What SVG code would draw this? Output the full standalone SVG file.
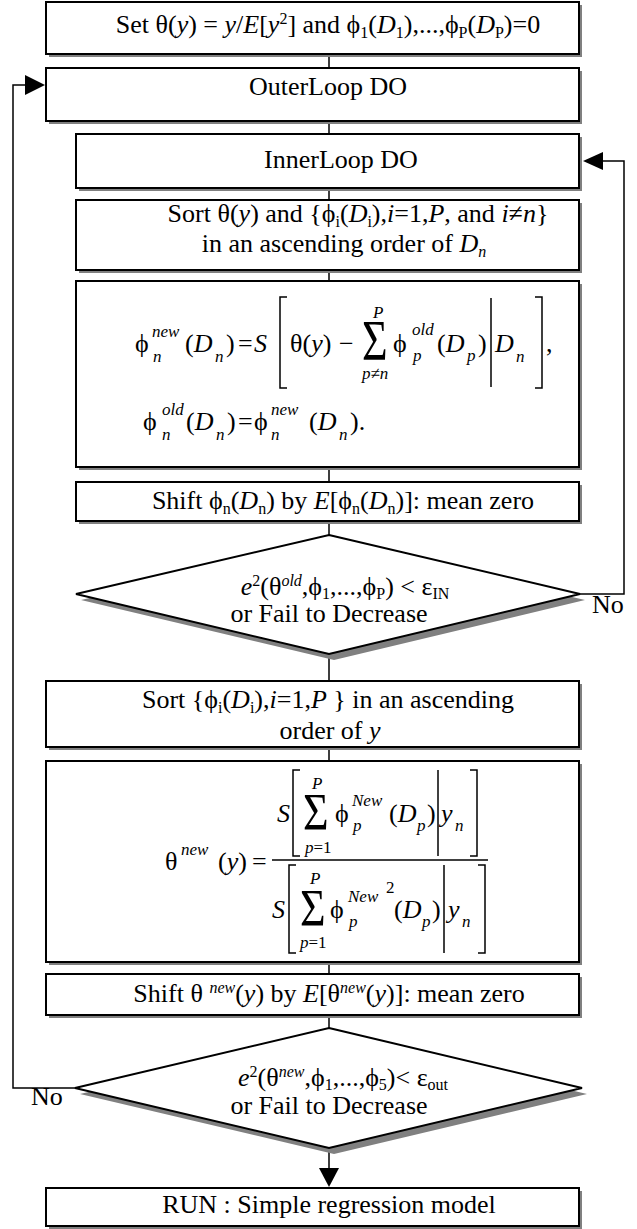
<svg xmlns="http://www.w3.org/2000/svg" width="637" height="1229" viewBox="0 0 637 1229">
<defs>
<style>
text{font-family:"Liberation Serif","Times New Roman",serif;font-size:26px;fill:#000}
.c{text-anchor:middle}
.i{font-style:italic}
.s{font-size:16px}
.ms{font-size:17px;font-style:italic}
.n{font-style:normal}
.two{font-size:17px}
.sig{font-size:44px}
.sh{fill:#808080;stroke:none}
.bx{fill:#fff;stroke:#000;stroke-width:2}
.ln{fill:none;stroke:#000;stroke-width:1.5}
.br{fill:none;stroke:#000;stroke-width:1.5}
</style>
</defs>
<rect width="637" height="1229" fill="#fff"/>

<g id="connectors">
<path class="ln" d="M329,54V68M329,121V134M329,188V200M329,270V281M329,467V482M329,521V535M329,654V681M329,747V761M329,962V974M329,1015V1028M329,1148V1170"/>
<polygon points="319,1168 339,1168 329,1187" fill="#000"/>
<path class="ln" d="M75,1088H13V85H27"/>
<polygon points="25,75 45,85 25,95" fill="#000"/>
<path class="ln" d="M580,594H624V161H601"/>
<polygon points="603,152 583,161 603,170" fill="#000"/>
<text x="592" y="613">No</text>
<text x="31" y="1105">No</text>
</g>

<g id="n-set">
<rect class="sh" x="49" y="5" width="533" height="52"/>
<rect class="bx" x="46" y="2" width="533" height="52"/>
<text class="c" x="328" y="33">Set θ(<tspan class="i">y</tspan>) = <tspan class="i">y</tspan>/<tspan class="i">E</tspan>[<tspan class="i">y</tspan><tspan class="s" baseline-shift="9">2</tspan>] and ϕ<tspan class="s" baseline-shift="-5">1</tspan>(<tspan class="i">D</tspan><tspan class="s" baseline-shift="-5">1</tspan>),...,ϕ<tspan class="s" baseline-shift="-5">P</tspan>(<tspan class="i">D</tspan><tspan class="s" baseline-shift="-5">P</tspan>)=0</text>
</g>

<g id="n-outer">
<rect class="sh" x="49" y="71" width="533" height="53"/>
<rect class="bx" x="46" y="68" width="533" height="53"/>
<text class="c" x="328" y="95">OuterLoop DO</text>
</g>

<g id="n-inner">
<rect class="sh" x="79" y="137" width="503" height="54"/>
<rect class="bx" x="76" y="134" width="503" height="54"/>
<text class="c" x="341" y="168">InnerLoop DO</text>
</g>

<g id="n-sort1">
<rect class="sh" x="79" y="203" width="503" height="70"/>
<rect class="bx" x="76" y="200" width="503" height="70"/>
<text class="c" x="358" y="222">Sort θ(<tspan class="i">y</tspan>) and {ϕ<tspan class="s" baseline-shift="-5">i</tspan>(<tspan class="i">D</tspan><tspan class="s" baseline-shift="-5">i</tspan>),<tspan class="i">i</tspan>=1,<tspan class="i">P</tspan>, and <tspan class="i">i</tspan>≠<tspan class="i">n</tspan>}</text>
<text class="c" x="344" y="252">in an ascending order of <tspan class="i">D</tspan><tspan class="s i" baseline-shift="-5">n</tspan></text>
</g>

<g id="n-formula1">
<rect class="sh" x="79" y="284" width="503" height="186"/>
<rect class="bx" x="76" y="281" width="503" height="186"/>
<text x="135" y="352">ϕ</text>
<text class="ms" x="152" y="337">new</text>
<text class="ms" x="153" y="362">n</text>
<text x="185" y="352">(<tspan class="i">D</tspan></text>
<text class="ms" x="215" y="362">n</text>
<text x="226" y="352">)</text>
<text x="238" y="352">=</text>
<text class="i" x="254" y="352">S</text>
<path class="br" d="M287,297H280V388H287"/>
<text x="290" y="352">θ(<tspan class="i">y</tspan>)</text>
<text x="339" y="352">−</text>
<text class="sig" transform="translate(362,360) scale(1,1.3)">Σ</text>
<text class="ms" x="373" y="318">P</text>
<text class="ms" x="362" y="379">p<tspan class="n">≠</tspan>n</text>
<text x="393" y="352">ϕ</text>
<text class="ms" x="412" y="335">old</text>
<text class="ms" x="413" y="361">p</text>
<text x="437" y="352">(<tspan class="i">D</tspan></text>
<text class="ms" x="467" y="361">p</text>
<text x="478" y="352">)</text>
<path class="br" d="M491,298V387"/>
<text class="i" x="495" y="352">D</text>
<text class="ms" x="516" y="362">n</text>
<path class="br" d="M535,297H542V388H535"/>
<text x="546" y="352">,</text>
<text x="143" y="430">ϕ</text>
<text class="ms" x="162" y="415">old</text>
<text class="ms" x="162" y="440">n</text>
<text x="186" y="430">(<tspan class="i">D</tspan></text>
<text class="ms" x="216" y="440">n</text>
<text x="227" y="430">)</text>
<text x="238" y="430">=</text>
<text x="254" y="430">ϕ</text>
<text class="ms" x="271" y="415">new</text>
<text class="ms" x="271" y="440">n</text>
<text x="309" y="430">(<tspan class="i">D</tspan></text>
<text class="ms" x="339" y="440">n</text>
<text x="350" y="430">).</text>
</g>

<g id="n-shift1">
<rect class="sh" x="79" y="485" width="503" height="39"/>
<rect class="bx" x="76" y="482" width="503" height="39"/>
<text class="c" x="343" y="509">Shift ϕ<tspan class="s" baseline-shift="-5">n</tspan>(<tspan class="i">D</tspan><tspan class="s" baseline-shift="-5">n</tspan>) by <tspan class="i">E</tspan>[ϕ<tspan class="s" baseline-shift="-5">n</tspan>(<tspan class="i">D</tspan><tspan class="s" baseline-shift="-5">n</tspan>)]: mean zero</text>
</g>

<g id="n-dec1">
<polygon class="sh" points="334,541 585,600 334,660 81,600"/>
<polygon class="bx" points="329,535 580,594 329,654 76,594"/>
<text class="c" x="345" y="595"><tspan class="i">e</tspan><tspan class="s" baseline-shift="9">2</tspan>(θ<tspan class="s i" baseline-shift="9">old</tspan>,ϕ<tspan class="s" baseline-shift="-4">1</tspan>,...,ϕ<tspan class="s" baseline-shift="-4">P</tspan>) &lt; ε<tspan class="s" baseline-shift="-4">IN</tspan></text>
<text class="c" x="329" y="622">or Fail to Decrease</text>
</g>

<g id="n-sort2">
<rect class="sh" x="49" y="684" width="533" height="66"/>
<rect class="bx" x="46" y="681" width="533" height="66"/>
<text class="c" x="328" y="708">Sort {ϕ<tspan class="s" baseline-shift="-5">i</tspan>(<tspan class="i">D</tspan><tspan class="s" baseline-shift="-5">i</tspan>),<tspan class="i">i</tspan>=1,<tspan class="i">P</tspan> } in an ascending</text>
<text class="c" x="330" y="739">order of <tspan class="i">y</tspan></text>
</g>

<g id="n-formula2">
<rect class="sh" x="49" y="764" width="533" height="201"/>
<rect class="bx" x="46" y="761" width="533" height="201"/>
<text class="i" x="277" y="822">S</text>
<path class="br" d="M300,770H293V856H300"/>
<text class="sig" transform="translate(303,830) scale(1,1.2)">Σ</text>
<text class="ms" x="312" y="789">P</text>
<text class="ms" x="305" y="853">p<tspan class="n">=1</tspan></text>
<text x="335" y="822">ϕ</text>
<text class="ms" x="352" y="806">New</text>
<text class="ms" x="353" y="831">p</text>
<text x="389" y="822">(<tspan class="i">D</tspan></text>
<text class="ms" x="417" y="831">p</text>
<text x="427" y="822">)</text>
<path class="br" d="M438,770V856"/>
<text class="i" x="441" y="822">y</text>
<text class="ms" x="455" y="831">n</text>
<path class="br" d="M470,770H477V856H470"/>
<path class="br" d="M272,860H488"/>
<text x="165" y="870">θ</text>
<text class="ms" x="181" y="855">new</text>
<text x="218" y="870">(<tspan class="i">y</tspan>)</text>
<text x="252" y="870">=</text>
<text class="i" x="272" y="918">S</text>
<path class="br" d="M296,865H289V953H296"/>
<text class="sig" transform="translate(300,926) scale(1,1.2)">Σ</text>
<text class="ms" x="310" y="884">P</text>
<text class="ms" x="300" y="948">p<tspan class="n">=1</tspan></text>
<text x="330" y="918">ϕ</text>
<text class="ms" x="348" y="902">New</text>
<text class="two" x="386" y="893">2</text>
<text class="ms" x="349" y="927">p</text>
<text x="394" y="918">(<tspan class="i">D</tspan></text>
<text class="ms" x="422" y="927">p</text>
<text x="432" y="918">)</text>
<path class="br" d="M444,865V953"/>
<text class="i" x="448" y="918">y</text>
<text class="ms" x="462" y="927">n</text>
<path class="br" d="M478,865H485V953H478"/>
</g>

<g id="n-shift2">
<rect class="sh" x="49" y="977" width="533" height="41"/>
<rect class="bx" x="46" y="974" width="533" height="41"/>
<text class="c" x="329" y="1002">Shift θ <tspan class="s i" baseline-shift="9">new</tspan>(<tspan class="i">y</tspan>) by <tspan class="i">E</tspan>[θ<tspan class="s i" baseline-shift="9">new</tspan>(<tspan class="i">y</tspan>)]: mean zero</text>
</g>

<g id="n-dec2">
<polygon class="sh" points="334,1034 587,1094 334,1154 80,1094"/>
<polygon class="bx" points="329,1028 582,1088 329,1148 75,1088"/>
<text class="c" x="343" y="1086"><tspan class="i">e</tspan><tspan class="s" baseline-shift="9">2</tspan>(θ<tspan class="s i" baseline-shift="9">new</tspan>,ϕ<tspan class="s" baseline-shift="-4">1</tspan>,...,ϕ<tspan class="s" baseline-shift="-4">5</tspan>)&lt; ε<tspan class="s" baseline-shift="-4">out</tspan></text>
<text class="c" x="329" y="1114">or Fail to Decrease</text>
</g>

<g id="n-run">
<rect class="sh" x="49" y="1191" width="533" height="38"/>
<rect class="bx" x="46" y="1188" width="533" height="38"/>
<text class="c" x="329" y="1213">RUN : Simple regression model</text>
</g>
</svg>
